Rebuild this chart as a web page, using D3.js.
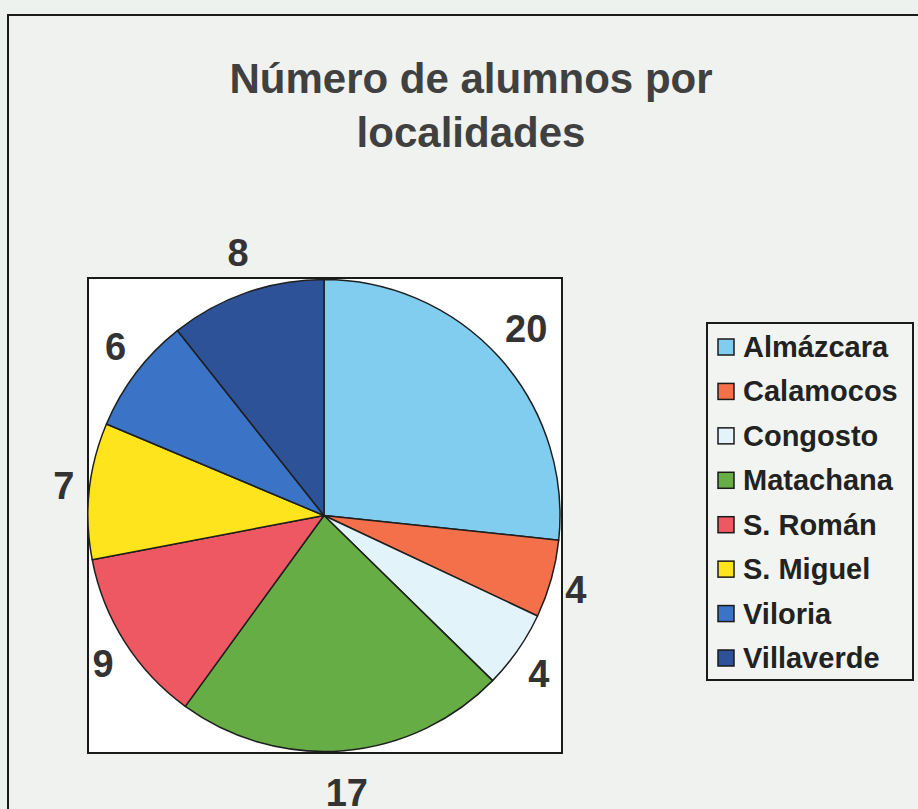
<!DOCTYPE html>
<html>
<head>
<meta charset="utf-8">
<script src="https://cdn.jsdelivr.net/npm/d3@7"></script>
<style>
  body { margin: 0; background: #eef2ee; }
  text { font-family: "Liberation Sans", Arial, sans-serif; font-weight: bold; }
</style>
</head>
<body>
<div id="chart"></div>
<script>
var width = 918, height = 809;

// data
var localidades = ["Almázcara", "Calamocos", "Congosto", "Matachana", "S. Román", "S. Miguel", "Viloria", "Villaverde"];
var alumnos = [20, 4, 4, 17, 9, 7, 6, 8];
var colores = ["#80cdf0", "#f4704a", "#e2f3f9", "#67ad45", "#ee5862", "#fde41c", "#3b74c6", "#2e5298"];
var titulo = ["Número de alumnos por", "localidades"];

var svg = d3.select("#chart")
    .append("svg")
    .attr("width", width)
    .attr("height", height);

// outer chart frame (runs off the right/bottom of the scan)
svg.append("rect")
    .attr("x", 8).attr("y", 15)
    .attr("width", width + 20).attr("height", height + 20)
    .attr("fill", "#eff2ee")
    .attr("stroke", "#1a1a1a")
    .attr("stroke-width", 2);

// title
svg.selectAll(".title")
    .data(titulo)
    .enter()
    .append("text")
    .attr("class", "title")
    .attr("x", 471)
    .attr("y", function(d, i){ return 93 + i * 54 })
    .attr("text-anchor", "middle")
    .attr("font-size", 42)
    .attr("fill", "#404040")
    .text(function(d){ return d });

// plot area
var plot = {x: 88, y: 278, w: 474, h: 475};
svg.append("rect")
    .attr("x", plot.x).attr("y", plot.y)
    .attr("width", plot.w).attr("height", plot.h)
    .attr("fill", "#ffffff")
    .attr("stroke", "#1a1a1a")
    .attr("stroke-width", 2);

var cx = 324, cy = 515.5, radius = 236;

var pie = d3.pie().sort(null).value(function(d){ return d.value });
var arc = d3.arc().innerRadius(0).outerRadius(radius);

var data = localidades.map(function(name, i){ return {name: name, value: alumnos[i], color: colores[i]} });
var arcs = pie(data);

var g = svg.append("g")
    .attr("transform", "translate(" + cx + "," + cy + ")");

g.selectAll("path")
    .data(arcs)
    .enter()
    .append("path")
    .attr("d", arc)
    .attr("fill", function(d){ return d.data.color })
    .attr("stroke", "#1f1f1f")
    .attr("stroke-width", 1.5)
    .attr("stroke-linejoin", "round");

// value labels, placed just outside the rim
g.selectAll(".lbl")
    .data(arcs)
    .enter()
    .append("text")
    .attr("class", "lbl")
    .attr("font-size", 38)
    .attr("fill", "#333333")
    .attr("text-anchor", "middle")
    .attr("dominant-baseline", "central")
    .text(function(d){ return d.data.value })
    .each(function(d){
        var a = (d.startAngle + d.endAngle) / 2;
        var hw = this.getBBox().width / 2;
        var x = Math.sin(a) * (radius + 15 + hw);
        var y = -Math.cos(a) * (radius + 42);
        d3.select(this).attr("x", x).attr("y", y);
    });

// legend
var legend = svg.append("g");
legend.append("rect")
    .attr("x", 707).attr("y", 323)
    .attr("width", 206).attr("height", 357)
    .attr("fill", "#f1f4f0")
    .attr("stroke", "#1a1a1a")
    .attr("stroke-width", 2);

var rowY = d3.scaleLinear().domain([0, localidades.length - 1]).range([347, 658]);

var items = legend.selectAll(".item")
    .data(data)
    .enter()
    .append("g")
    .attr("class", "item")
    .attr("transform", function(d, i){ return "translate(0," + rowY(i) + ")" });

items.append("rect")
    .attr("x", 718).attr("y", -8)
    .attr("width", 16).attr("height", 16)
    .attr("fill", function(d){ return d.color })
    .attr("stroke", "#1a1a1a")
    .attr("stroke-width", 1.5);

items.append("text")
    .attr("x", 743)
    .attr("y", 0)
    .attr("dominant-baseline", "central")
    .attr("font-size", 29)
    .attr("fill", "#222222")
    .text(function(d){ return d.name });
</script>
</body>
</html>
